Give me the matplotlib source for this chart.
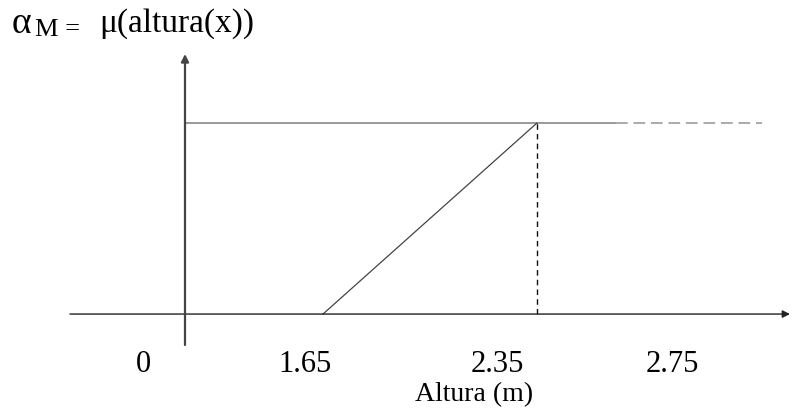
import numpy as np
import matplotlib
matplotlib.use("Agg")
import matplotlib.pyplot as plt

# schematic membership function: mu(altura)
tick_values = [0, 1.65, 2.35, 2.75]
tick_labels = ["0", "1.65", "2.35", "2.75"]
ramp_x = [1.65, 2.35]
ramp_mu = [0, 1]
plateau_solid_end = 2.49
plateau_end = 2.75

# the drawing is not to scale: piecewise map from value to horizontal position
anchor_vals = [-1.4, 0, 1.65, 2.35, 2.75, 3.1]
anchor_pos = [70, 185, 323, 537, 762, 790]

# label centres sit left of their marks in the original
label_pos = [-0.51, 1.44, 2.22, 2.59]


def fwd(x):
    return np.interp(x, anchor_vals, anchor_pos)


def inv(p):
    return np.interp(p, anchor_pos, anchor_vals)


plt.rcParams["font.family"] = ["Liberation Serif", "DejaVu Serif"]

W, H = 793, 412
fig = plt.figure(figsize=(W / 100, H / 100), dpi=100)
ax = fig.add_axes([70 / W, (H - 345) / H, (790 - 70) / W, (345 - 54) / H])
ax.set_xscale("function", functions=(fwd, inv))
ax.set_xlim(-1.4, 3.1)
ax.set_ylim(-0.162, 1.361)
ax.axis("off")

arrow = dict(arrowstyle="-|>", color="#222222", lw=1.0, mutation_scale=11, shrinkA=0, shrinkB=0)
ax.annotate("", xy=(3.1, 0), xytext=(-1.4, 0), arrowprops=arrow)
ax.annotate("", xy=(0, 1.361), xytext=(0, -0.162), arrowprops=dict(arrow, color="#444444", lw=1.6))

# plateau at mu = 1
ax.plot([0, plateau_solid_end], [1, 1], color="#999999", lw=1.4, solid_capstyle="butt")
ax.plot([plateau_solid_end, plateau_end], [1, 1], color="#aaaaaa", lw=1.4, ls=(0, (6, 3)))

# ramp and its vertical guide
ax.plot(ramp_x, ramp_mu, color="#444444", lw=0.9)
ax.plot([ramp_x[1], ramp_x[1]], [0, 1], color="#111111", lw=1.0, ls=(0, (4, 3)))

for pos, lab in zip(label_pos, tick_labels):
    ax.text(pos, -0.265, lab, ha="center", va="center", fontsize=22, clip_on=False)

ax.text(2.144, -0.42, "Altura (m)", ha="center", va="center", fontsize=20, clip_on=False)

# title: alpha with a small "M =" subscript, then mu(altura(x))
fig.text(12 / W, 1 - 24 / H, "α", ha="left", va="center", fontsize=27)
fig.text(35 / W, 1 - 30 / H, "M =", ha="left", va="center", fontsize=19)
fig.text(99 / W, 1 - 24 / H, "μ(altura(x))", ha="left", va="center", fontsize=24)

fig.savefig("out.png", dpi=100)
